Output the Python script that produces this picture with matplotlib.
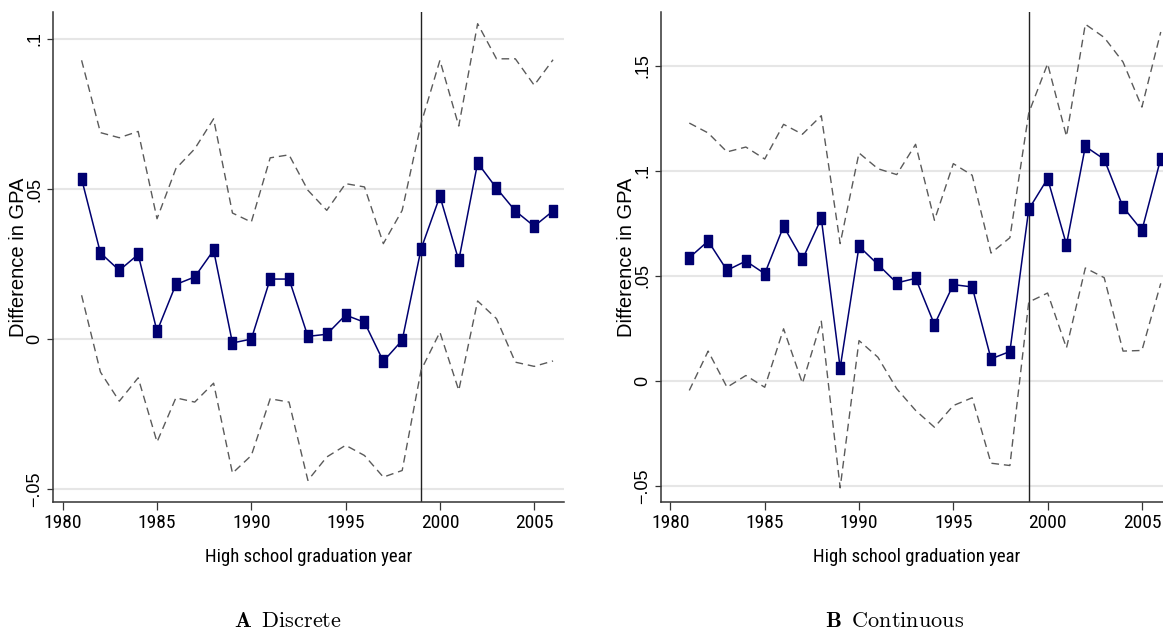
import numpy as np
import matplotlib
matplotlib.use("Agg")
import matplotlib.pyplot as plt
from matplotlib.path import Path
from matplotlib import font_manager as fm

# years 1981-2006
years = list(range(1981, 2007))

# panel A: discrete
disc_est = [0.0534, 0.0287, 0.0229, 0.0282, 0.0026, 0.0182, 0.0207, 0.0296, -0.0013, 0.0000,
            0.0200, 0.0200, 0.0009, 0.0016, 0.0080, 0.0056, -0.0074, -0.0004, 0.0300, 0.0476,
            0.0262, 0.0587, 0.0503, 0.0427, 0.0376, 0.0427]
disc_hi = [0.0929, 0.0688, 0.0671, 0.0692, 0.0401, 0.0568, 0.0634, 0.0734, 0.0420, 0.0390,
           0.0604, 0.0614, 0.0496, 0.0429, 0.0518, 0.0507, 0.0318, 0.0429, 0.0718, 0.0929,
           0.0710, 0.1051, 0.0934, 0.0934, 0.0846, 0.0931]
disc_lo = [0.0146, -0.0110, -0.0207, -0.0129, -0.0343, -0.0196, -0.0210, -0.0147, -0.0447, -0.0388,
           -0.0199, -0.0210, -0.0471, -0.0393, -0.0354, -0.0388, -0.0460, -0.0438, -0.0104, 0.0023,
           -0.0171, 0.0127, 0.0068, -0.0077, -0.0091, -0.0073]

# panel B: continuous
cont_est = [0.0587, 0.0666, 0.0527, 0.0571, 0.0511, 0.0736, 0.0579, 0.0774, 0.0063, 0.0641,
            0.0555, 0.0467, 0.0489, 0.0269, 0.0459, 0.0448, 0.0106, 0.0141, 0.0817, 0.0963,
            0.0649, 0.1116, 0.1055, 0.0828, 0.0717, 0.1058]
cont_hi = [0.1227, 0.1180, 0.1090, 0.1113, 0.1056, 0.1221, 0.1174, 0.1262, 0.0654, 0.1085,
           0.1010, 0.0982, 0.1126, 0.0765, 0.1034, 0.0979, 0.0609, 0.0682, 0.1275, 0.1509,
           0.1164, 0.1697, 0.1634, 0.1517, 0.1303, 0.1660]
cont_lo = [-0.0044, 0.0143, -0.0029, 0.0027, -0.0029, 0.0249, -0.0010, 0.0285, -0.0507, 0.0193,
           0.0114, -0.0036, -0.0139, -0.0219, -0.0116, -0.0079, -0.0390, -0.0401, 0.0376, 0.0419,
           0.0158, 0.0538, 0.0492, 0.0143, 0.0146, 0.0465]

xticks = [1980, 1985, 1990, 1995, 2000, 2005]
a_yticks = [-0.05, 0, 0.05, 0.1]
a_ylabels = ["\u2212.05", "0", ".05", ".1"]
b_yticks = [-0.05, 0, 0.05, 0.1, 0.15]
b_ylabels = ["\u2212.05", "0", ".05", ".1", ".15"]
cutoff = 1999

plt.rcParams["mathtext.fontset"] = "cm"
regular = ["Liberation Sans", "DejaVu Sans"]


def narrow_font(size):
    # look for an installed narrow / condensed sans face
    faces = fm.fontManager.ttflist
    for want in ["Liberation Sans Narrow", "Arial Narrow", "Roboto Condensed", "Open Sans Condensed"]:
        for f in faces:
            if f.name == want and f.weight in (400, "normal", "regular") and f.style == "normal":
                return fm.FontProperties(fname=f.fname, size=size)
    for f in faces:
        if (f.stretch in ("condensed", "semi-condensed", "extra-condensed")
                or "Condensed" in f.fname or "Narrow" in f.fname) \
                and f.style == "normal" and f.weight in (400, "normal", "regular") \
                and "Mono" not in f.name and "Serif" not in f.name:
            return fm.FontProperties(fname=f.fname, size=size)
    return fm.FontProperties(family=regular, size=size - 1.5)


tickfont = narrow_font(14)
labelfont = narrow_font(13.5)

navy = "#000070"
gray = "#5a5a5a"
grid_c = "#e6e6e6"
spine_c = "#333333"

# tall rectangle marker (image is horizontally squeezed)
rect = Path([(-0.33, -0.5), (0.33, -0.5), (0.33, 0.5), (-0.33, 0.5), (-0.33, -0.5)],
            [Path.MOVETO, Path.LINETO, Path.LINETO, Path.LINETO, Path.CLOSEPOLY])

fig = plt.figure(figsize=(11.63, 6.32), dpi=100)
W, H = 1163, 632
AW = 510.7


def panel(left_px, est, hi, lo, yticks, ylabels, ylim):
    ax = fig.add_axes([left_px / W, (H - 501.7) / H, AW / W, 489.7 / H])
    for y in yticks:
        ax.axhline(y, color=grid_c, lw=1.5, zorder=0)
    ax.axvline(cutoff, color="#222222", lw=1.0, zorder=1)
    ax.plot(years, hi, color=gray, lw=1.0, ls=(0, (5.5, 3.5)), zorder=2)
    ax.plot(years, lo, color=gray, lw=1.0, ls=(0, (5.5, 3.5)), zorder=2)
    ax.plot(years, est, color=navy, lw=1.1, marker=rect, ms=8.6,
            mfc=navy, mec=navy, zorder=3)
    ax.set_xlim(1979.5, 2006.58)
    ax.set_ylim(*ylim)
    ax.set_xticks(xticks)
    ax.set_xticklabels([str(t) for t in xticks], fontproperties=tickfont)
    ax.set_yticks(yticks)
    ax.set_yticklabels(ylabels, family=regular, fontsize=13, rotation=90, va="center")
    ax.tick_params(axis="x", length=5.5, width=0.9, color=spine_c, pad=3)
    ax.tick_params(axis="y", length=4, width=0.9, color=spine_c, pad=3)
    for s in ["top", "right"]:
        ax.spines[s].set_visible(False)
    for s in ["left", "bottom"]:
        ax.spines[s].set_color(spine_c)
        ax.spines[s].set_linewidth(1.1)
    ax.set_xlabel("High school graduation year", fontproperties=labelfont, labelpad=12)
    ax.set_ylabel("Difference in GPA", family=regular, fontsize=14.5)
    ax.yaxis.set_label_coords(-25.3 / AW, 0.5)
    return ax


ax1 = panel(53.3, disc_est, disc_hi, disc_lo, a_yticks, a_ylabels, (-0.0542, 0.109))
ax2 = panel(661.0, cont_est, cont_hi, cont_lo, b_yticks, b_ylabels, (-0.0573, 0.1755))

fig.text(287.5 / W, 1 - 627 / H, r"$\mathbf{A}\;\;\mathrm{Discrete}$", ha="center", va="baseline",
         fontsize=16)
fig.text(895 / W, 1 - 627 / H, r"$\mathbf{B}\;\;\mathrm{Continuous}$", ha="center", va="baseline",
         fontsize=16)

fig.savefig("out.png", dpi=100)
